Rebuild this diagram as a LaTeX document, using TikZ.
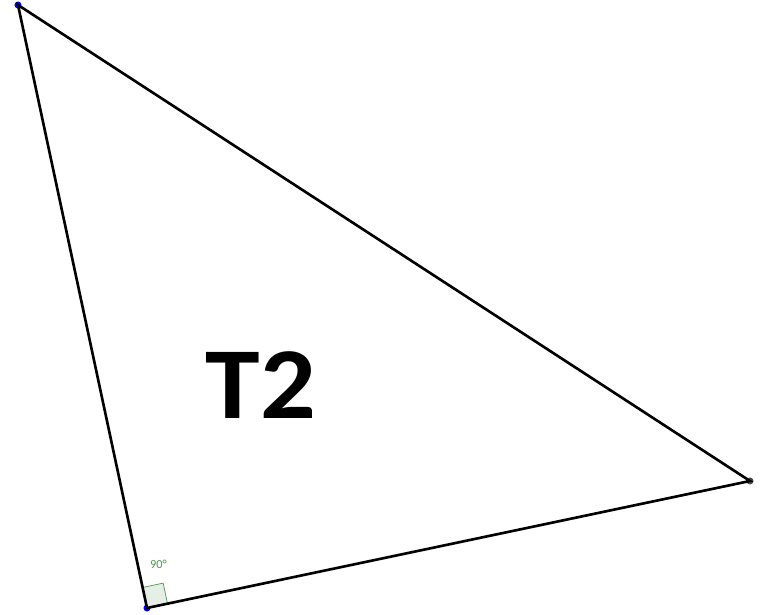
\documentclass[tikz,border=0pt]{standalone}
\usepackage{fontspec}
\setmainfont{Carlito}
\usepackage{xcolor}
\usetikzlibrary{calc}
\definecolor{anglegreen}{RGB}{80,150,80}
\begin{document}
\begin{tikzpicture}[thick]
\tikzstyle{vert}=[circle,inner sep=0pt,minimum size=4pt]
\useasboundingbox (0,0) rectangle (15.26,12.3);
\node[vert,fill=blue] (A) at (0.36,12.2) {};
\node[vert,fill=blue] (B) at (2.94,0.14) {};
\node[vert,fill=black!70] (C) at (15.0,2.68) {};
% right angle mark at B
\coordinate (ba) at ($(B.center)!0.42cm!(A.center)$);
\coordinate (bc) at ($(B.center)!0.42cm!(C.center)$);
\draw[anglegreen,fill=anglegreen!15,thin] (B.center) -- (ba) -- ($(ba)+(bc)-(B.center)$) -- (bc) -- cycle;
\node[anglegreen,font=\fontsize{7}{8}\selectfont] (ang) at (3.17,1.02) {90°};
\draw[line width=1.5pt] (A.center) -- (B.center) -- (C.center) -- cycle;
\node[font=\bfseries\fontsize{58}{58}\selectfont,xscale=1.08] (name) at (5.22,4.6) {T2};
\end{tikzpicture}
\end{document}
